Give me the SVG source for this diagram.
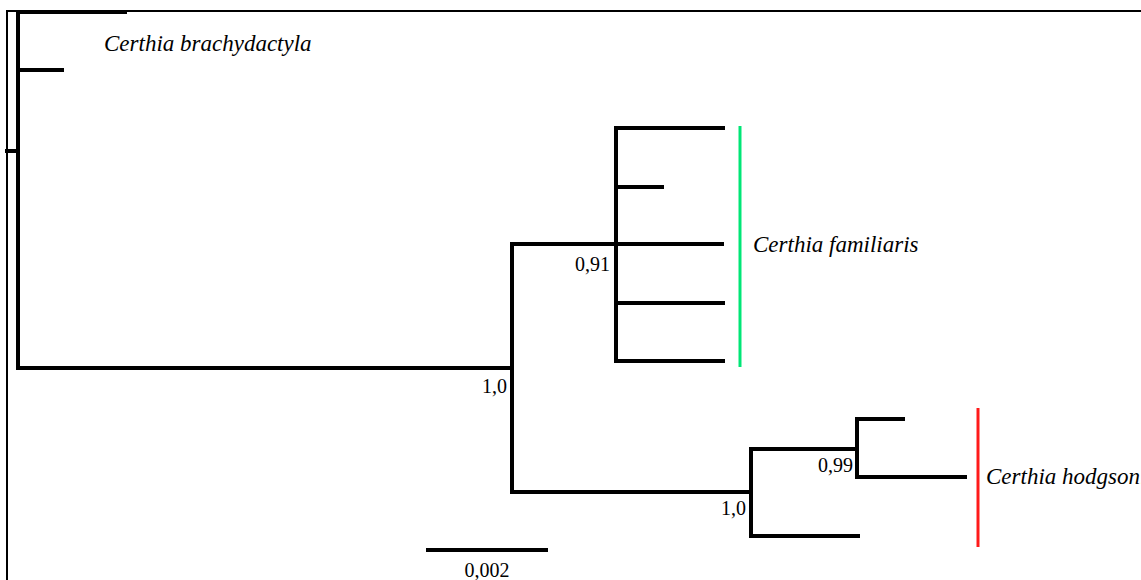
<svg xmlns="http://www.w3.org/2000/svg" width="1141" height="580" viewBox="0 0 1141 580">
<style>
.frame{stroke:#000;stroke-width:2;fill:none}
.br{stroke:#000;stroke-width:4;fill:none;stroke-linecap:square}
.lbl{font-family:"Liberation Serif",serif;font-size:20px;fill:#000}
.sp{font-family:"Liberation Serif",serif;font-size:23px;font-style:italic;fill:#000}
</style>
<rect width="1141" height="580" fill="#fff"/>
<g id="frame">
<path class="frame" d="M7,580 V11 H1141"/>
</g>
<g id="connectors">
<path class="br" d="M7,151 H18"/>
<path class="br" d="M18,12 V368"/>
<path class="br" d="M18,12 H125"/>
<path class="br" d="M18,70 H62"/>
<path class="br" d="M18,368 H512"/>
<path class="br" d="M512,244 V492"/>
<path class="br" d="M512,244 H616"/>
<path class="br" d="M616,128 V361"/>
<path class="br" d="M616,128 H723"/>
<path class="br" d="M616,187 H662"/>
<path class="br" d="M616,244 H722"/>
<path class="br" d="M616,303 H723"/>
<path class="br" d="M616,361 H723"/>
<path class="br" d="M512,492 H751"/>
<path class="br" d="M751,449 V536"/>
<path class="br" d="M751,449 H857"/>
<path class="br" d="M857,419 V477"/>
<path class="br" d="M857,419 H903"/>
<path class="br" d="M857,477 H965"/>
<path class="br" d="M751,536 H858"/>
<path class="br" d="M428,550 H546"/>
</g>
<g id="clade-familiaris">
<line x1="740" y1="126" x2="740" y2="367" stroke="#00e676" stroke-width="3"/>
<text class="sp" x="753" y="252">Certhia familiaris</text>
</g>
<g id="clade-hodgsoni">
<line x1="978" y1="408" x2="978" y2="547" stroke="#ff1a1a" stroke-width="3"/>
<text class="sp" x="986" y="484">Certhia hodgsoni</text>
</g>
<g id="taxon-brachydactyla">
<text class="sp" x="104" y="51">Certhia brachydactyla</text>
</g>
<g id="support-labels">
<text class="lbl" x="610" y="271" text-anchor="end">0,91</text>
<text class="lbl" x="507" y="393" text-anchor="end">1,0</text>
<text class="lbl" x="746" y="515" text-anchor="end">1,0</text>
<text class="lbl" x="853" y="472" text-anchor="end">0,99</text>
</g>
<g id="scale">
<text class="lbl" x="487" y="577" text-anchor="middle">0,002</text>
</g>
</svg>
